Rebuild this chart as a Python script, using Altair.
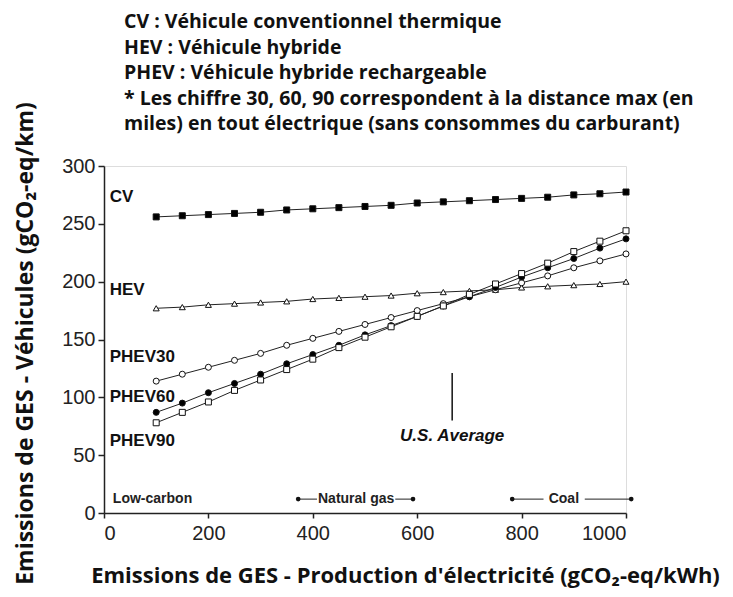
import altair as alt
import pandas as pd

# ---- data ----
elec = [100, 150, 200, 250, 300, 350, 400, 450, 500, 550, 600, 650, 700, 750, 800, 850, 900, 950, 1000]
cv = [256, 257, 258, 259, 260, 262, 263, 264, 265, 266, 268, 269, 270, 271, 272, 273, 275, 276, 277.5]
hev = [177, 178, 180, 181, 182, 183, 185, 186, 187, 188, 190, 191, 192, 193, 195, 196, 197, 198, 200]
phev30 = [114, 120, 126, 132, 138, 145, 151, 157, 163, 169, 175, 181, 187, 193, 199, 205, 212, 218, 224]
phev60 = [87, 95, 104, 112, 120, 129, 137, 145, 154, 162, 170, 179, 187, 195, 204, 212, 220, 229, 237]
phev90 = [78, 87, 96, 106, 115, 124, 133, 143, 152, 161, 170, 179, 189, 198, 207, 216, 226, 235, 244]

series_names = ["CV", "HEV", "PHEV30", "PHEV60", "PHEV90"]
series_values = [cv, hev, phev30, phev60, phev90]
series_shapes = ["square", "triangle-up", "circle", "circle", "square"]
series_fills = ["black", "white", "white", "black", "white"]

label_x = [11, 11, 11, 11, 11]
label_y = [273, 193, 135, 100, 62]

note_lines = [
    "CV : Véhicule conventionnel thermique",
    "HEV : Véhicule hybride",
    "PHEV : Véhicule hybride rechargeable",
    "* Les chiffre 30, 60, 90 correspondent à la distance max (en",
    "miles) en tout électrique (sans consommes du carburant)",
]

x_ticks = [0, 200, 400, 600, 800, 1000]
y_ticks = [0, 50, 100, 150, 200, 250, 300]

# source ranges along the bottom
range_names = ["Natural gas", "Coal"]
range_start = [372, 782]
range_end = [592, 1010]
range_gap_start = [408, 842]
range_gap_end = [558, 921]
range_label_x = [483, 881]
range_y = 12
lowcarbon_x = 17

us_avg_x = 667
us_avg_y1 = 80
us_avg_y2 = 121
us_avg_label_y = 67

# ---- build tables ----
rows = []
for name, vals in zip(series_names, series_values):
    for x, v in zip(elec, vals):
        rows.append({"series": name, "elec": x, "veh": v})
df = pd.DataFrame(rows)

xs = alt.Scale(domain=[0, 1000], nice=False)
ys = alt.Scale(domain=[0, 300], nice=False)

W, H = 522, 347

x_axis = alt.Axis(values=x_ticks, format="d", grid=False, tickSize=5, labelFontSize=20, labelFont="Liberation Sans",
                  labelColor="#222", labelPadding=5, domainColor="#222", tickColor="#222",
                  domainWidth=1.5, tickWidth=1.5,
                  title="Emissions de GES - Production d'électricité (gCO₂-eq/kWh)",
                  titleFont="Open Sans", titleFontSize=22, titleFontWeight="bold", titleColor="#111",
                  titleX=301, titleY=62, titleAlign="center", titleBaseline="middle", titleAngle=0)
y_axis = alt.Axis(values=y_ticks, grid=False, tickSize=6, labelFontSize=20, labelFont="Liberation Sans",
                  labelColor="#222", labelPadding=3, domainColor="#222", tickColor="#222",
                  domainWidth=1.5, tickWidth=1.5,
                  title="Emissions de GES - Véhicules (gCO₂-eq/km)",
                  titleFont="Open Sans", titleFontSize=23, titleFontWeight="bold", titleColor="#111",
                  titleX=-79, titleY=177, titleAlign="center", titleBaseline="middle", titleAngle=-90)

base = alt.Chart(df)

lines = base.mark_line(color="#222", strokeWidth=1).encode(
    x=alt.X("elec:Q", scale=xs, axis=x_axis),
    y=alt.Y("veh:Q", scale=ys, axis=y_axis),
    detail="series:N",
)

points = base.mark_point(filled=True, stroke="#111", strokeWidth=1, opacity=1).encode(
    x=alt.X("elec:Q", scale=xs),
    y=alt.Y("veh:Q", scale=ys),
    shape=alt.Shape("series:N", scale=alt.Scale(domain=series_names, range=series_shapes), legend=None),
    fill=alt.Fill("series:N", scale=alt.Scale(domain=series_names, range=series_fills), legend=None),
    size=alt.value(36),
)

lab_df = pd.DataFrame({"name": series_names, "x": label_x, "y": label_y})
labels = alt.Chart(lab_df).mark_text(align="left", baseline="middle", font="Liberation Sans",
                                     fontWeight="bold", fontSize=17, color="#111").encode(
    x=alt.X("x:Q", scale=xs), y=alt.Y("y:Q", scale=ys), text="name:N")

# U.S. average
us_df = pd.DataFrame({"x": [us_avg_x], "y1": [us_avg_y1], "y2": [us_avg_y2], "ly": [us_avg_label_y],
                      "t": ["U.S. Average"]})
us_rule = alt.Chart(us_df).mark_rule(color="#111", strokeWidth=1.5).encode(
    x=alt.X("x:Q", scale=xs), y=alt.Y("y1:Q", scale=ys), y2="y2:Q")
us_text = alt.Chart(us_df).mark_text(font="Liberation Sans", fontWeight="bold", fontStyle="italic",
                                     fontSize=17, color="#111", baseline="middle").encode(
    x=alt.X("x:Q", scale=xs), y=alt.Y("ly:Q", scale=ys), text="t:N")

# bottom source ranges
seg_rows = []
for s, gs, ge, e in zip(range_start, range_gap_start, range_gap_end, range_end):
    seg_rows.append({"a": s, "b": gs, "y": range_y})
    seg_rows.append({"a": ge, "b": e, "y": range_y})
seg_df = pd.DataFrame(seg_rows)
segs = alt.Chart(seg_df).mark_rule(color="#222", strokeWidth=1).encode(
    x=alt.X("a:Q", scale=xs), x2="b:Q", y=alt.Y("y:Q", scale=ys))
dot_df = pd.DataFrame({"x": range_start + range_end, "y": [range_y] * 4})
dots = alt.Chart(dot_df).mark_point(filled=True, color="#111", size=22, opacity=1).encode(
    x=alt.X("x:Q", scale=xs), y=alt.Y("y:Q", scale=ys))
rl_df = pd.DataFrame({"x": [lowcarbon_x] + range_label_x, "y": [range_y] * 3,
                      "t": ["Low-carbon"] + range_names})
rlabels_left = alt.Chart(rl_df.iloc[:1]).mark_text(align="left", baseline="middle", font="Liberation Sans",
                                                   fontWeight="bold", fontSize=14, color="#222").encode(
    x=alt.X("x:Q", scale=xs), y=alt.Y("y:Q", scale=ys), text="t:N")
rlabels = alt.Chart(rl_df.iloc[1:]).mark_text(align="center", baseline="middle", font="Liberation Sans",
                                              fontWeight="bold", fontSize=14, color="#222").encode(
    x=alt.X("x:Q", scale=xs), y=alt.Y("y:Q", scale=ys), text="t:N")

# notes at top
note_layers = []
for i, line in enumerate(note_lines):
    note_layers.append(
        alt.Chart(pd.DataFrame({"t": [line]})).mark_text(
            align="left", baseline="middle", font="Open Sans", fontWeight="bold", fontSize=19.5, color="#111"
        ).encode(x=alt.value(20), y=alt.value(-144 + 25.5 * i), text="t:N")
    )

chart = alt.layer(lines, points, labels, us_rule, us_text, segs, dots, rlabels_left, rlabels, *note_layers).properties(
    width=W, height=H,
    autosize=alt.AutoSizeParams(type="none"),
    padding={"left": 96, "top": 158, "right": 99, "bottom": 76},
).configure_view(stroke=None).configure(background="white")

chart.save("out.html", embed_options={"renderer": "svg", "actions": False})
